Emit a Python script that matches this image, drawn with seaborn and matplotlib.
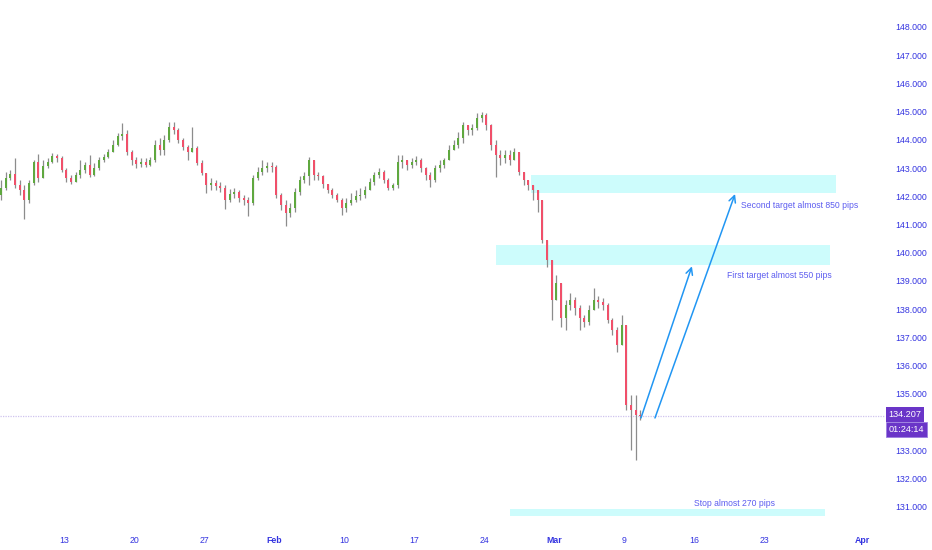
import numpy as np
import pandas as pd
import seaborn as sns
import matplotlib.pyplot as plt
import matplotlib.transforms as mtransforms
from matplotlib.patches import Rectangle

sns.set_style("white")
plt.rcParams['font.family'] = ['Liberation Sans', 'DejaVu Sans']

# 8h candles (price)
first_open = 142.04
closes = [
    142.29, 142.65, 142.79, 142.40, 142.22, 141.87, 142.47, 143.21, 142.65, 143.07,
    143.21, 143.43, 143.35, 142.93, 142.65, 142.50, 142.75, 142.93, 143.11, 142.75,
    143.00, 143.28, 143.39, 143.57, 143.81, 144.13, 144.20, 143.57, 143.28, 143.14,
    143.21, 143.11, 143.28, 143.81, 143.64, 143.99, 144.45, 144.35, 143.99, 143.74,
    143.57, 143.71, 143.18, 142.82, 142.40, 142.47, 142.36, 142.29, 141.87, 142.08,
    142.15, 141.94, 141.87, 141.76, 142.65, 142.86, 143.00, 143.07, 143.04, 142.04,
    141.69, 141.41, 141.58, 142.15, 142.58, 142.72, 143.28, 142.75, 142.72, 142.43,
    142.22, 142.04, 141.87, 141.58, 141.76, 141.87, 142.01, 142.04, 142.22, 142.50,
    142.75, 142.86, 142.58, 142.29, 142.40, 143.21, 143.28, 143.11, 143.21, 143.28,
    143.00, 142.75, 142.58, 143.00, 143.11, 143.28, 143.64, 143.81, 144.06, 144.52,
    144.35, 144.42, 144.77, 144.88, 144.52, 143.81, 143.46, 143.35, 143.46, 143.28,
    143.57, 142.86, 142.58, 142.40, 142.22, 141.87, 140.45, 139.74, 138.33, 138.93,
    137.69, 138.15, 138.33, 138.04, 137.69, 137.55, 137.97, 138.33, 138.26, 138.15,
    137.62, 137.27, 136.73, 137.44, 134.61, 134.43, 134.26, 134.21,
]
highs = [
    142.58, 142.86, 142.93, 143.35, 142.58, 142.40, 142.58, 143.28, 143.50, 143.28,
    143.35, 143.53, 143.50, 143.43, 143.00, 142.75, 142.86, 143.28, 143.21, 143.46,
    143.18, 143.39, 143.50, 143.67, 143.99, 144.24, 144.60, 144.35, 143.64, 143.39,
    143.35, 143.35, 143.39, 143.99, 144.06, 144.17, 144.63, 144.63, 144.42, 144.06,
    143.81, 144.45, 143.78, 143.28, 142.58, 142.65, 142.58, 142.50, 142.40, 142.26,
    142.29, 142.22, 142.04, 141.97, 142.75, 143.04, 143.28, 143.21, 143.21, 143.11,
    142.12, 141.87, 141.76, 142.29, 142.72, 142.86, 143.39, 143.21, 142.86, 142.75,
    142.40, 142.29, 142.12, 141.94, 141.94, 142.12, 142.22, 142.29, 142.36, 142.65,
    142.86, 143.00, 142.93, 142.65, 142.47, 143.46, 143.46, 143.28, 143.35, 143.43,
    143.35, 143.04, 142.86, 143.11, 143.28, 143.35, 143.81, 143.99, 144.27, 144.63,
    144.52, 144.56, 144.95, 144.98, 144.95, 144.56, 143.99, 143.64, 143.64, 143.64,
    143.71, 143.57, 142.86, 142.58, 142.40, 142.22, 141.69, 140.45, 139.74, 139.21,
    138.57, 138.33, 138.57, 138.43, 138.15, 137.80, 138.15, 138.75, 138.47, 138.40,
    138.22, 137.69, 137.37, 137.80, 137.44, 134.96, 134.96, 134.43,
]
lows = [
    141.87, 142.22, 142.58, 142.29, 142.04, 141.20, 141.76, 142.40, 142.50, 142.65,
    143.00, 143.18, 143.21, 142.86, 142.50, 142.43, 142.50, 142.65, 142.82, 142.68,
    142.72, 142.93, 143.21, 143.35, 143.57, 143.78, 143.99, 143.46, 143.11, 143.00,
    143.04, 143.04, 143.07, 143.21, 143.46, 143.46, 143.92, 144.20, 143.89, 143.64,
    143.28, 143.57, 143.11, 142.75, 142.12, 142.22, 142.22, 142.15, 141.55, 141.80,
    141.94, 141.80, 141.69, 141.30, 141.69, 142.58, 142.75, 142.86, 142.86, 141.94,
    141.51, 140.95, 141.27, 141.44, 142.04, 142.47, 142.40, 142.58, 142.58, 142.29,
    142.12, 141.94, 141.80, 141.34, 141.44, 141.69, 141.80, 141.87, 141.94, 142.22,
    142.40, 142.65, 142.47, 142.22, 142.22, 142.29, 143.00, 142.93, 143.00, 143.11,
    142.86, 142.58, 142.33, 142.50, 142.86, 143.00, 143.28, 143.64, 143.71, 143.89,
    144.17, 144.17, 144.35, 144.63, 144.35, 143.64, 142.68, 143.11, 143.18, 143.11,
    143.28, 142.75, 142.40, 142.22, 141.87, 141.44, 140.34, 139.50, 137.62, 138.33,
    137.37, 137.27, 137.97, 137.80, 137.27, 137.37, 137.44, 138.04, 138.04, 137.97,
    137.51, 137.09, 136.48, 136.73, 134.43, 133.02, 132.66, 134.08,
]

# x axis: trading days, 0 = Jan 13
tick_pos = [0, 5, 10, 15, 20, 25, 30, 35, 40, 45, 50, 57]
tick_labels = ['13', '20', '27', 'Feb', '10', '17', '24', 'Mar', '9', '16', '23', 'Apr']
bold_labels = ['Feb', 'Mar', 'Apr']
# 134.000 is hidden behind the price tag on the reference
price_ticks = [131, 132, 133, 135, 136, 137, 138, 139, 140, 141, 142, 143, 144, 145, 146, 147, 148]

last_price = 134.207
countdown = '01:24:14'

# zones: (start day, end day, low price, high price)
zone_days = [(33.36, 55.14), (30.86, 54.71), (31.86, 54.36)]
zone_prices = [(142.10, 142.77), (139.55, 140.29), (130.68, 130.93)]

# arrows: (start day, start price) -> (end day, end price)
arrow_from = [(41.21, 134.15), (42.21, 134.15)]
arrow_to = [(44.85, 139.52), (47.93, 142.08)]

notes = ['Second target almost 850 pips', 'First target almost 550 pips', 'Stop almost 270 pips']
note_pos = [(48.36, 141.69), (47.36, 139.21), (45.0, 131.11)]

n = len(closes)
df = pd.DataFrame({
    'x': -4.5 + np.arange(n) / 3,
    'open': [first_open] + closes[:-1],
    'close': closes,
    'high': highs,
    'low': lows,
})
df['high'] = df[['high', 'open', 'close']].max(axis=1)
df['low'] = df[['low', 'open', 'close']].min(axis=1)
df['up'] = df['close'] >= df['open']

up_col = '#5fa83f'
down_col = '#f0506a'
wick_col = '#8c8c8c'
txt_col = '#3434e0'
note_col = '#5c5cf0'
zone_col = '#cdfcfc'
arrow_col = '#2196f3'
label_col = '#6a35c8'

fig = plt.figure(figsize=(9.32, 5.5), dpi=100)
ax = fig.add_axes([0, 25 / 550, 885 / 932, 525 / 550])

for (x0, x1), (p0, p1) in zip(zone_days, zone_prices):
    ax.add_patch(Rectangle((x0, p0), x1 - x0, p1 - p0, facecolor=zone_col, edgecolor='none', zorder=1))

ax.axhline(last_price, color='#cfc3ef', lw=0.9, ls=(0, (1, 1)), zorder=1)

ax.vlines(df['x'], df['low'], df['high'], color=wick_col, lw=0.9, zorder=2)
body_bottom = df[['open', 'close']].min(axis=1)
body_h = (df['close'] - df['open']).abs().clip(lower=0.025)
ax.bar(df['x'], body_h, bottom=body_bottom, width=0.16,
       color=np.where(df['up'], up_col, down_col), linewidth=0, zorder=3)

for (xs, ys), (xe, ye) in zip(arrow_from, arrow_to):
    ax.annotate('', xy=(xe, ye), xytext=(xs, ys),
                arrowprops=dict(arrowstyle='->', color=arrow_col, lw=1.1, mutation_scale=12,
                                shrinkA=0, shrinkB=0), zorder=4)

for txt, (xn, yn) in zip(notes, note_pos):
    ax.text(xn, yn, txt, color=note_col, fontsize=6.2, ha='left', va='center', zorder=5)

ax.set_xlim(-4.571, 58.64)
ax.set_ylim(130.36, 148.95)

ax.set_xticks(tick_pos)
ax.set_xticklabels(tick_labels)
for lab in ax.get_xticklabels():
    if lab.get_text() in bold_labels:
        lab.set_fontweight('bold')
ax.yaxis.tick_right()
ax.set_yticks(price_ticks)
ax.set_yticklabels([f'{p:.3f}' for p in price_ticks])
ax.tick_params(axis='x', length=0, pad=8, labelsize=6.3, labelcolor=txt_col)
ax.tick_params(axis='y', length=0, pad=7.5, labelsize=6.3, labelcolor=txt_col)
for s in ax.spines.values():
    s.set_visible(False)

# price tag and countdown on the price scale
trans = mtransforms.blended_transform_factory(ax.transAxes, ax.transData)
ax.annotate(f'{last_price:.3f}', xy=(1.004, last_price), xycoords=trans, xytext=(0, 1.5),
            textcoords='offset points', color='white', fontsize=6.6, ha='left', va='center',
            annotation_clip=False,
            bbox=dict(boxstyle='square,pad=0.3', facecolor=label_col, edgecolor='none'))
ax.annotate(countdown, xy=(1.004, last_price), xycoords=trans, xytext=(0, -9.3),
            textcoords='offset points', color='white', fontsize=6.6, ha='left', va='center',
            annotation_clip=False,
            bbox=dict(boxstyle='square,pad=0.3', facecolor=label_col, edgecolor='#9c7ee0', lw=0.6))

fig.savefig('out.png', dpi=100)
